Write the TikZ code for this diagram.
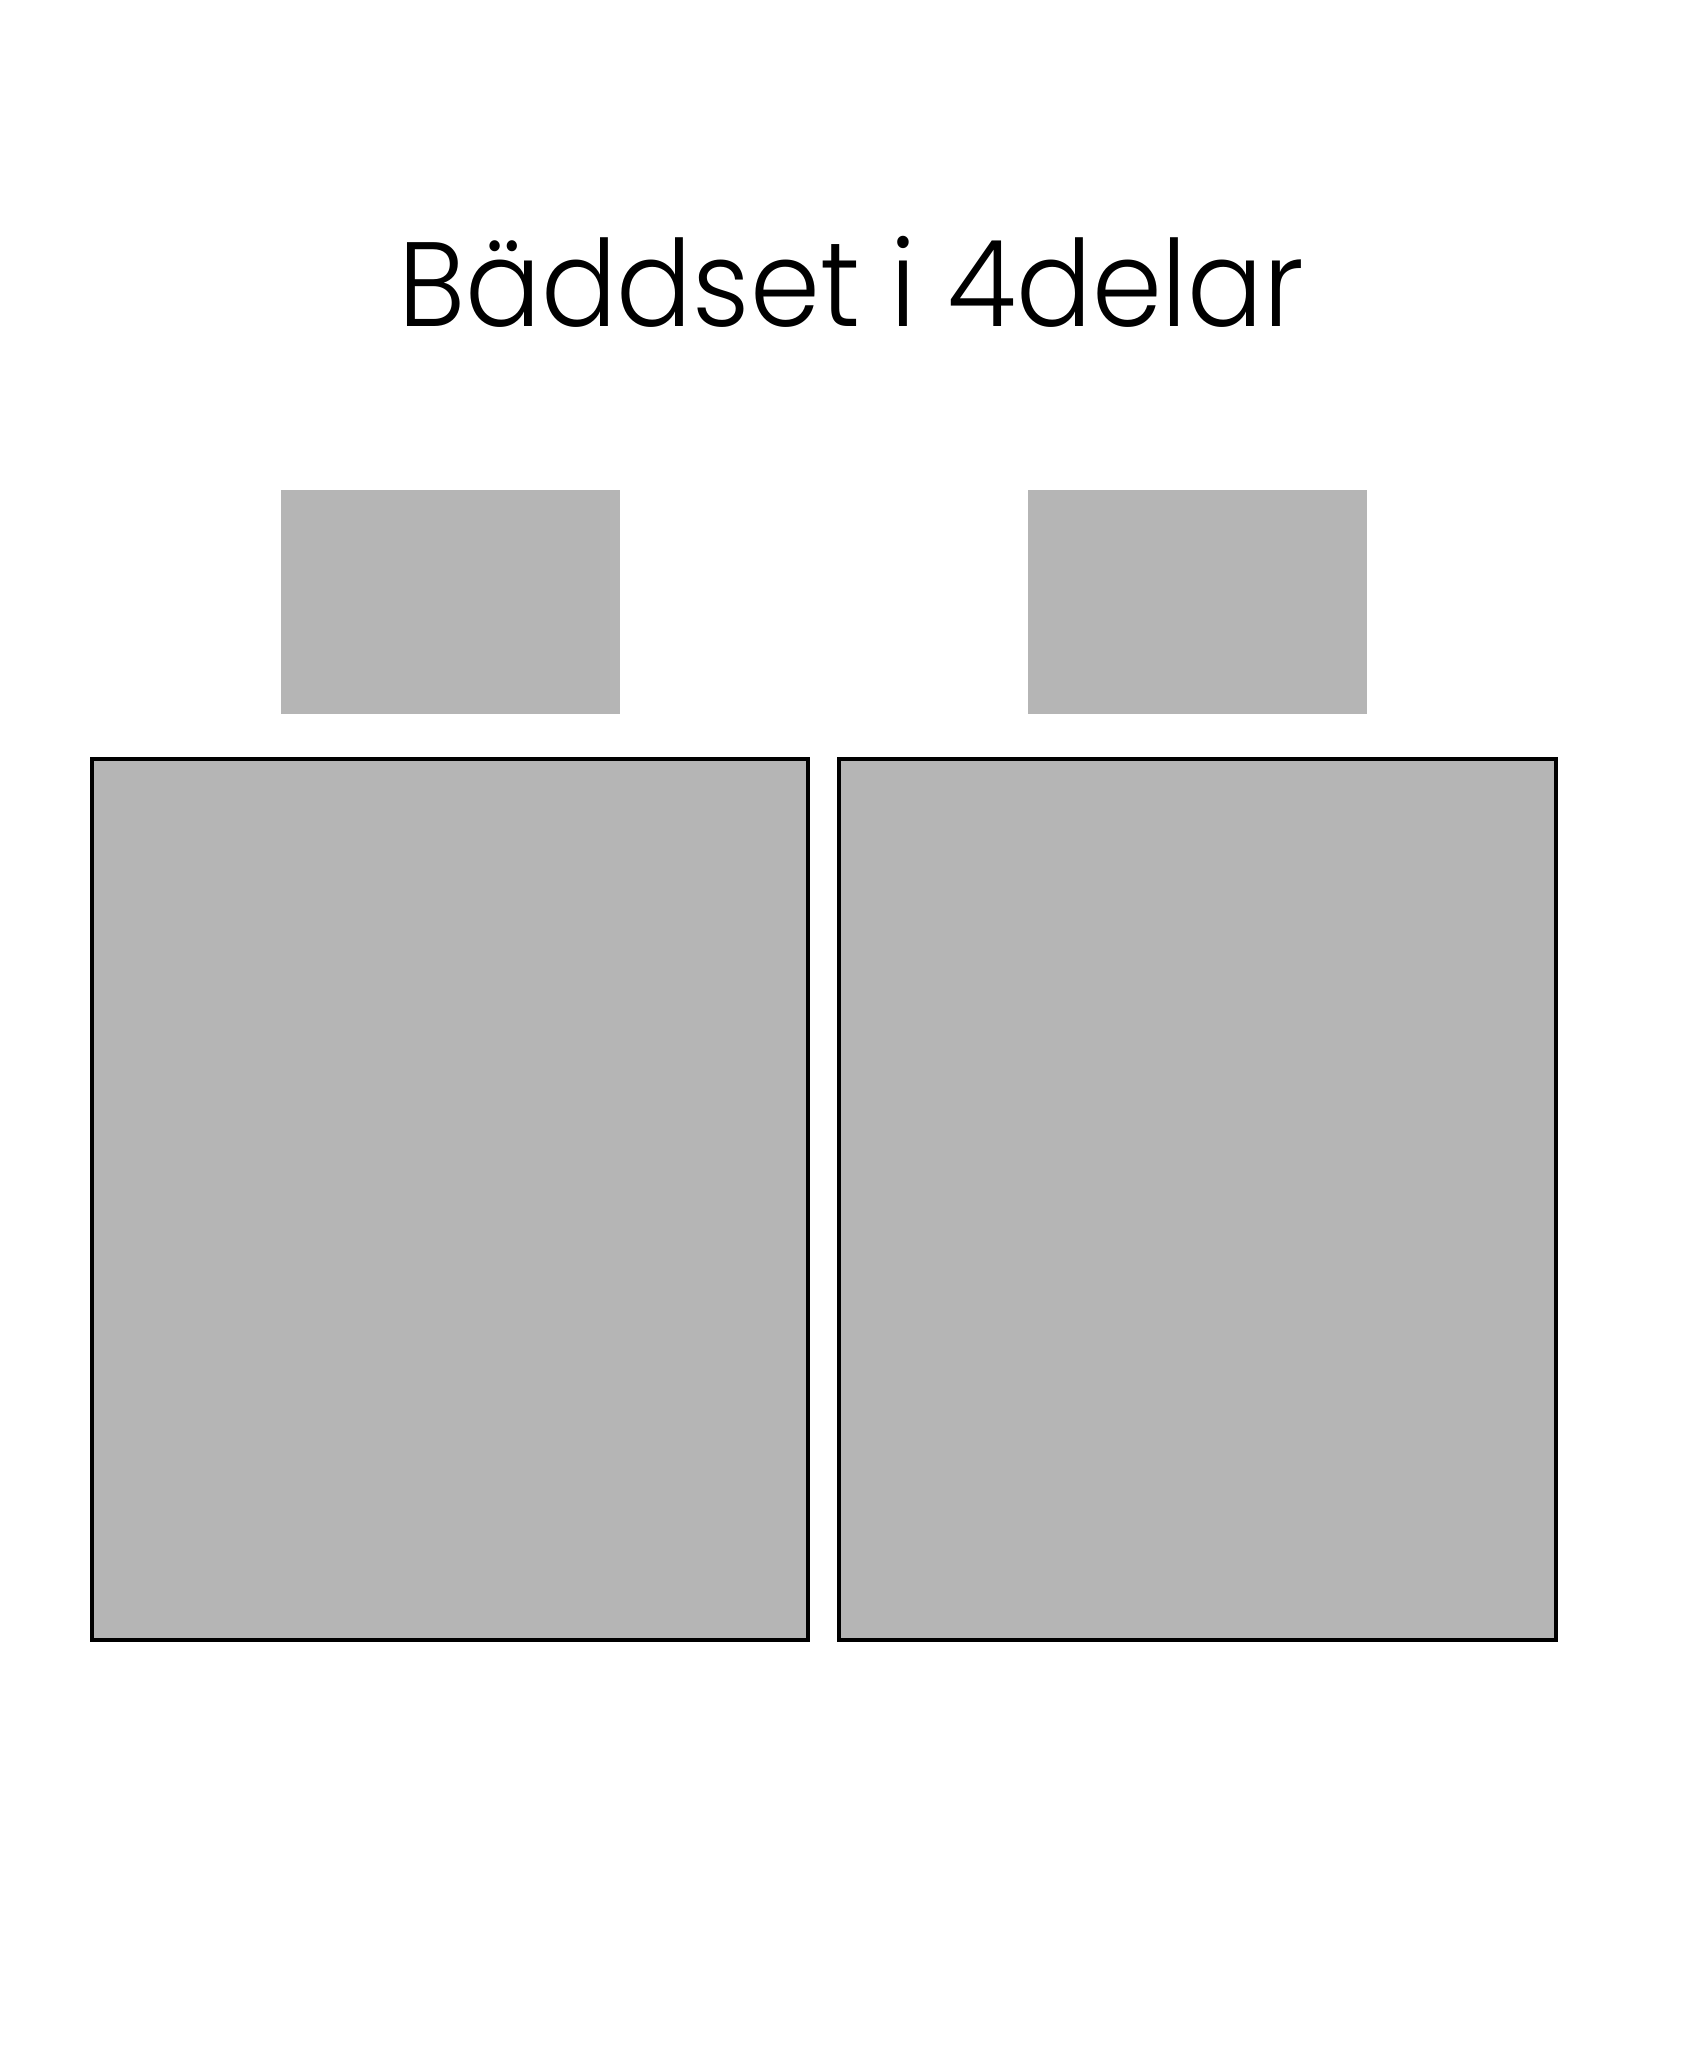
\documentclass[tikz,border=0pt]{standalone}
\usepackage{fontspec}
\setmainfont{Poppins}[UprightFont=* Light]
\usepackage{graphicx}
\definecolor{sheet}{HTML}{B5B5B5}
\tikzset{
  pillow/.style={fill=sheet, draw=none},
  duvet/.style={fill=sheet, draw=black, line width=4pt},
}
\begin{document}
\begin{tikzpicture}[x=1pt,y=-1pt]
\path[fill=white] (0,0) rectangle (1701,2048);
\useasboundingbox (0,0) rectangle (1701,2048);
\node[anchor=base west, inner sep=0pt] (title) at (398,326)
  {\resizebox{906pt}{\height}{\fontsize{120pt}{140pt}\selectfont Bäddset i 4delar}};
\path[pillow] (281,490) rectangle (620,714) node[midway] (p1) {};
\path[pillow] (1028,490) rectangle (1367,714) node[midway] (p2) {};
\path[duvet] (92,759) rectangle (808,1640) node[midway] (d1) {};
\path[duvet] (839,759) rectangle (1556,1640) node[midway] (d2) {};
\end{tikzpicture}
\end{document}
